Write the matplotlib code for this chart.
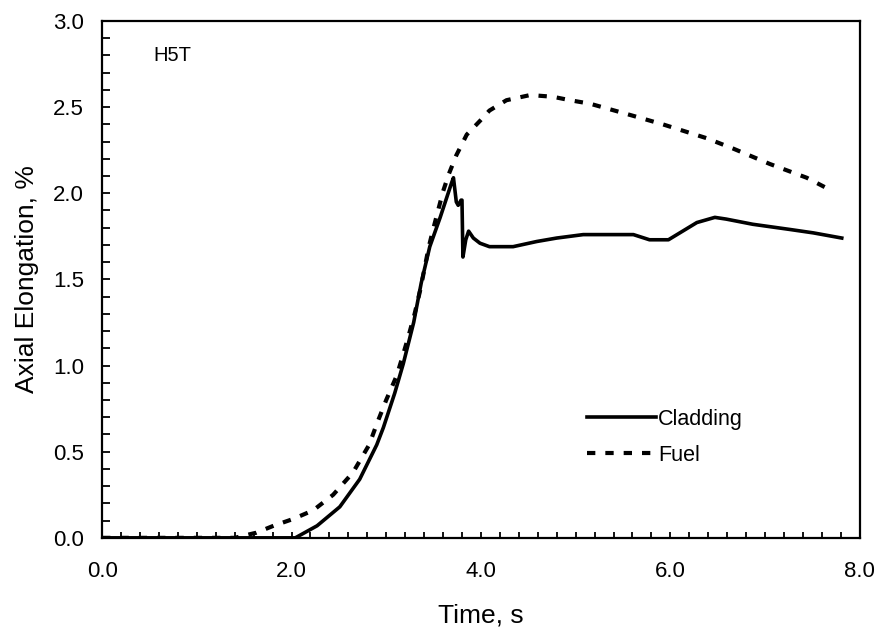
import matplotlib
matplotlib.use("Agg")
import matplotlib.pyplot as plt
from matplotlib.ticker import MultipleLocator, FormatStrFormatter

plt.rcParams["font.family"] = ["Liberation Sans", "DejaVu Sans"]

# cladding axial elongation (%) vs time (s)
clad_t = [0.0, 2.04, 2.27, 2.51, 2.72, 2.90, 2.97, 3.09, 3.18, 3.29, 3.37, 3.46,
          3.57, 3.69, 3.71, 3.74, 3.76, 3.79, 3.80, 3.81, 3.84, 3.87, 3.92, 3.99,
          4.09, 4.34, 4.59, 4.80, 5.08, 5.61, 5.78, 5.98, 6.10, 6.28, 6.47, 6.59,
          6.87, 7.26, 7.51, 7.81]
clad_y = [0.0, 0.0, 0.07, 0.18, 0.34, 0.54, 0.64, 0.84, 1.01, 1.25, 1.48, 1.69,
          1.86, 2.06, 2.09, 1.95, 1.93, 1.96, 1.96, 1.63, 1.73, 1.78, 1.74, 1.71,
          1.69, 1.69, 1.72, 1.74, 1.76, 1.76, 1.73, 1.73, 1.77, 1.83, 1.86, 1.85,
          1.82, 1.79, 1.77, 1.74]

# fuel axial elongation (%) vs time (s)
fuel_t = [0.0, 1.40, 1.63, 1.81, 2.02, 2.23, 2.44, 2.65, 2.82, 2.90, 3.00, 3.11,
          3.16, 3.23, 3.30, 3.36, 3.45, 3.50, 3.60, 3.66, 3.74, 3.85, 3.99, 4.09,
          4.27, 4.52, 4.76, 4.94, 5.15, 5.54, 5.92, 6.38, 6.66, 7.05, 7.44, 7.65]
fuel_y = [0.0, 0.0, 0.03, 0.07, 0.11, 0.16, 0.25, 0.38, 0.54, 0.66, 0.80, 0.94,
          1.03, 1.16, 1.30, 1.44, 1.69, 1.80, 2.01, 2.11, 2.22, 2.34, 2.42, 2.48,
          2.54, 2.57, 2.56, 2.54, 2.52, 2.46, 2.40, 2.32, 2.26, 2.17, 2.09, 2.03]

fig = plt.figure(figsize=(8.8, 6.35), dpi=100)
ax = fig.add_axes([0.116, 0.153, 0.861, 0.814])

ax.plot(clad_t, clad_y, color="black", linewidth=2.6, label="Cladding",
        solid_joinstyle="round")
ax.plot(fuel_t, fuel_y, color="black", linewidth=3.0, linestyle=(0, (2.0, 2.4)),
        label="Fuel")

ax.set_xlim(0, 8)
ax.set_ylim(0, 3)
ax.xaxis.set_major_locator(MultipleLocator(2.0))
ax.xaxis.set_minor_locator(MultipleLocator(0.2))
ax.yaxis.set_major_locator(MultipleLocator(0.5))
ax.yaxis.set_minor_locator(MultipleLocator(0.1))
ax.xaxis.set_major_formatter(FormatStrFormatter("%.1f"))
ax.yaxis.set_major_formatter(FormatStrFormatter("%.1f"))

ax.tick_params(axis="both", which="both", direction="in", top=False, right=False,
               width=1.3, labelsize=16)
ax.tick_params(axis="y", which="both", length=6, pad=13)
ax.tick_params(axis="x", which="both", length=4.5, pad=17)
for spine in ax.spines.values():
    spine.set_linewidth(1.6)

ax.set_xlabel("Time, s", fontsize=19, labelpad=15)
ax.set_ylabel("Axial Elongation, %", fontsize=19, labelpad=10)

ax.text(0.54, 2.80, "H5T", fontsize=14.5, va="center", ha="left")

ax.legend(loc="upper left", bbox_to_anchor=(0.64, 0.25), frameon=False,
          fontsize=15.5, handlelength=3.2, handletextpad=0.1, labelspacing=0.7,
          borderpad=0, borderaxespad=0)

fig.savefig("out.png", dpi=100)
